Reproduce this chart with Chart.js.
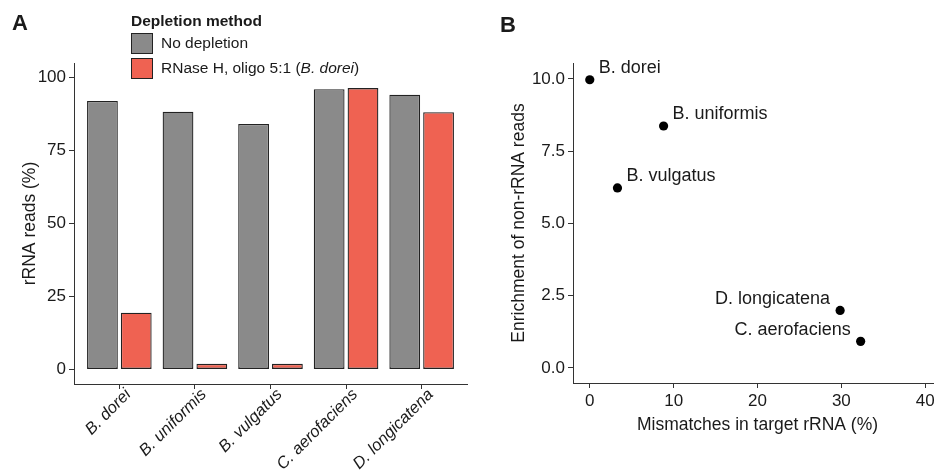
<!DOCTYPE html>
<html>
<head>
<meta charset="utf-8">
<script src="https://cdn.jsdelivr.net/npm/chart.js@4.4.0/dist/chart.umd.min.js"></script>
<style>
html, body { margin: 0; padding: 0; background: #fff; overflow: hidden; }
body { width: 934px; height: 473px; position: relative; font-family: "Liberation Sans", Arial, sans-serif; color: #1a1a1a; }
.panel { position: absolute; top: 0; height: 473px; }
#wrapA { left: 0; width: 470px; }
#wrapB { left: 490px; width: 460px; }
.tag { position: absolute; font-weight: bold; font-size: 22px; line-height: 1; }
#legend { position: absolute; left: 131px; top: 13px; font-size: 15.5px; line-height: 1; }
#legend .title { font-weight: bold; margin-bottom: 4px; }
#legend .row { display: flex; align-items: center; height: 21px; margin-bottom: 4px; }
#legend .key { width: 20px; height: 19px; border: 1px solid #222; margin-right: 8px; }
</style>
</head>
<body>
<div class="panel" id="wrapA"><canvas id="chartA"></canvas></div>
<div class="panel" id="wrapB"><canvas id="chartB"></canvas></div>
<div class="tag" style="left:12px;top:12px;">A</div>
<div class="tag" style="left:500px;top:14px;">B</div>
<div id="legend">
  <div class="title">Depletion method</div>
  <div class="row"><div class="key" style="background:#8a8a8a"></div><span>No depletion</span></div>
  <div class="row"><div class="key" style="background:#ef6252"></div><span>RNase H, oligo 5:1 (<i>B. dorei</i>)</span></div>
</div>
<script>
// ===============================
// DATA
// ===============================
// Panel A - rRNA reads per species
const speciesA = ['B. dorei', 'B. uniformis', 'B. vulgatus', 'C. aerofaciens', 'D. longicatena'];
const noDepletion = [92.0, 88.3, 84.1, 96.0, 94.1];
const rnaseH = [19.4, 1.9, 1.9, 96.4, 88.1];
const yTicksA = [0, 25, 50, 75, 100];

// Panel B - enrichment vs mismatches
const speciesB = ['B. dorei', 'B. uniformis', 'B. vulgatus', 'D. longicatena', 'C. aerofaciens'];
const mismatches = [0.0, 8.8, 3.3, 29.85, 32.3];
const enrichment = [9.97, 8.37, 6.23, 1.99, 0.92];
const xTicksB = [0, 10, 20, 30, 40];
const yTicksB = [0, 2.5, 5, 7.5, 10];

// ===============================
// STYLE
// ===============================
const FONT = "'Liberation Sans', Arial, sans-serif";
const TEXT = '#1a1a1a';
const AXIS = '#333333';
Chart.defaults.font.family = FONT;
Chart.defaults.color = TEXT;
Chart.defaults.animation = false;

const axisBase = (ticksArr) => ({
    type: 'linear',
    afterBuildTicks: s => { s.ticks = ticksArr.map(v => ({ value: v })); },
    border: { display: true, color: AXIS, width: 1 },
    grid: { offset: false, drawOnChartArea: false, drawTicks: true, tickLength: 5, color: AXIS, lineWidth: 1 }
});

// ===============================
// PANEL A
// ===============================
new Chart(document.getElementById('chartA'), {
    type: 'bar',
    data: {
        datasets: [
            { label: 'No depletion', data: noDepletion.map((v, i) => ({ x: i + 1, y: v })), backgroundColor: '#8a8a8a' },
            { label: 'RNase H', data: rnaseH.map((v, i) => ({ x: i + 1, y: v })), backgroundColor: '#ef6252' }
        ]
    },
    options: {
        responsive: true,
        maintainAspectRatio: false,
        layout: { padding: { top: 63, right: 3, bottom: 0, left: 0 } },
        datasets: { bar: { borderColor: '#222', borderWidth: 1.3, borderSkipped: false, categoryPercentage: 0.895, barPercentage: 0.91 } },
        plugins: { legend: { display: false }, tooltip: { enabled: false } },
        scales: {
            x: Object.assign(axisBase([1, 2, 3, 4, 5]), {
                min: 0.4, max: 5.6, offset: false,
                afterFit: s => { s.height = 89; },
                ticks: {
                    autoSkip: false, minRotation: 45, maxRotation: 45, padding: -4, labelOffset: 9,
                    font: { size: 16.5, style: 'italic' }, color: TEXT,
                    callback: v => speciesA[v - 1]
                }
            }),
            y: Object.assign(axisBase(yTicksA), {
                min: -5, max: 105,
                afterFit: s => { s.width = 74; },
                ticks: { font: { size: 17 }, color: TEXT, padding: 3 },
                title: { display: true, text: 'rRNA reads (%)', font: { size: 17.5 }, color: TEXT, padding: { top: 20 } }
            })
        }
    }
});

// ===============================
// PANEL B
// ===============================
const pointLabels = {
    id: 'pointLabels',
    afterDatasetsDraw(chart) {
        const ctx = chart.ctx;
        const meta = chart.getDatasetMeta(0);
        ctx.save();
        ctx.font = '18px ' + FONT;
        ctx.fillStyle = TEXT;
        ctx.textBaseline = 'middle';
        meta.data.forEach((pt, i) => {
            if (mismatches[i] > 20) {
                ctx.textAlign = 'right';
                ctx.fillText(speciesB[i], pt.x - 10, pt.y - 11);
            } else {
                ctx.textAlign = 'left';
                ctx.fillText(speciesB[i], pt.x + 9, pt.y - 12);
            }
        });
        ctx.restore();
    }
};

new Chart(document.getElementById('chartB'), {
    type: 'scatter',
    data: {
        datasets: [{
            data: mismatches.map((m, i) => ({ x: m, y: enrichment[i] })),
            backgroundColor: '#000', borderWidth: 0, pointRadius: 4.6
        }]
    },
    options: {
        responsive: true,
        maintainAspectRatio: false,
        layout: { padding: { top: 63, right: 8, bottom: 0, left: 0 } },
        plugins: { legend: { display: false }, tooltip: { enabled: false } },
        scales: {
            x: Object.assign(axisBase(xTicksB), {
                min: -2, max: 42,
                afterFit: s => { s.height = 90; },
                ticks: { font: { size: 17 }, color: TEXT, padding: 3 },
                title: { display: true, text: 'Mismatches in target rRNA (%)', font: { size: 17.5 }, color: TEXT, padding: { bottom: 37 } }
            }),
            y: Object.assign(axisBase(yTicksB), {
                min: -0.52, max: 10.55,
                afterFit: s => { s.width = 83; },
                ticks: { font: { size: 17 }, color: TEXT, padding: 3, callback: v => v.toFixed(1) },
                title: { display: true, text: 'Enrichment of non-rRNA reads', font: { size: 17.5 }, color: TEXT, padding: { top: 19 } }
            })
        }
    },
    plugins: [pointLabels]
});
</script>
</body>
</html>
